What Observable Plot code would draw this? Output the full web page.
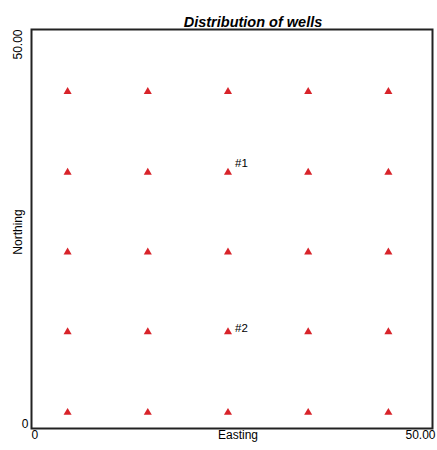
<!DOCTYPE html>
<html>
<head>
<meta charset="utf-8">
<script src="https://cdn.jsdelivr.net/npm/d3@7"></script>
<script src="https://cdn.jsdelivr.net/npm/@observablehq/plot@0.6"></script>
<style>
  html, body { margin: 0; padding: 0; background: #fff; }
</style>
</head>
<body>
<div id="chart"></div>
<script>
const titleText = "Distribution of wells";
const xLabel = "Easting";
const yLabel = "Northing";
const xDomain = [0, 50];
const yDomain = [0, 50];
const xTickLabels = ["0", "50.00"];
const yTickLabels = ["0", "50.00"];
const eastings = [4.5, 14.5, 24.5, 34.5, 44.5];
const northings = [2.0, 12.1, 22.1, 32.1, 42.2];
const wellLabels = ["#1", "#2"];
const wellLabelX = [24.5, 24.5];
const wellLabelY = [32.1, 12.1];

const wells = d3.cross(eastings, northings, (x, y) => ({x, y}));
const labels = wellLabels.map((t, i) => ({t, x: wellLabelX[i], y: wellLabelY[i]}));

const font = "'Liberation Sans', Arial, Helvetica, sans-serif";

const chart = Plot.plot({
  width: 437,
  height: 450,
  marginLeft: 31,
  marginRight: 5,
  marginTop: 29,
  marginBottom: 22,
  style: {fontFamily: font, fontSize: "12px", background: "#fff", color: "#000"},
  x: {domain: xDomain, axis: null},
  y: {domain: yDomain, axis: null},
  marks: [
    Plot.frame({stroke: "#222", strokeWidth: 2}),
    Plot.dot(wells, {x: "x", y: "y", symbol: "triangle", r: 3, fill: "#d8232a", stroke: "none"}),
    Plot.text(labels.slice(0, 1), {x: "x", y: "y", text: "t", dx: 7, dy: -9, textAnchor: "start", fontSize: 11.5}),
    Plot.text(labels.slice(1), {x: "x", y: "y", text: "t", dx: 7, dy: -4, textAnchor: "start", fontSize: 11.5}),
    // x tick labels
    Plot.text([xDomain[0]], {x: d => d, text: () => xTickLabels[0], frameAnchor: "bottom", dy: 10, textAnchor: "start"}),
    Plot.text([xDomain[1]], {x: d => d, text: () => xTickLabels[1], frameAnchor: "bottom", dy: 10, dx: 3, textAnchor: "end"}),
    Plot.text([xLabel], {text: d => d, frameAnchor: "bottom", dy: 10, dx: 6, textAnchor: "middle"}),
    // y tick labels
    Plot.text([yDomain[0]], {y: d => d, text: () => yTickLabels[0], frameAnchor: "left", dx: -3, dy: -4, textAnchor: "end"}),
    Plot.text([yDomain[1]], {y: d => d, text: () => yTickLabels[1], frameAnchor: "left", dx: -13, rotate: -90, textAnchor: "end"}),
    Plot.text([yLabel], {text: d => d, frameAnchor: "left", dx: -13, dy: 3, rotate: -90, textAnchor: "middle"}),
    // title
    Plot.text([titleText], {text: d => d, frameAnchor: "top", dy: -12.5, dx: 21, textAnchor: "middle", fontWeight: "bold", fontStyle: "italic", fontSize: 14.5})
  ]
});
document.getElementById("chart").append(chart);
</script>
</body>
</html>
